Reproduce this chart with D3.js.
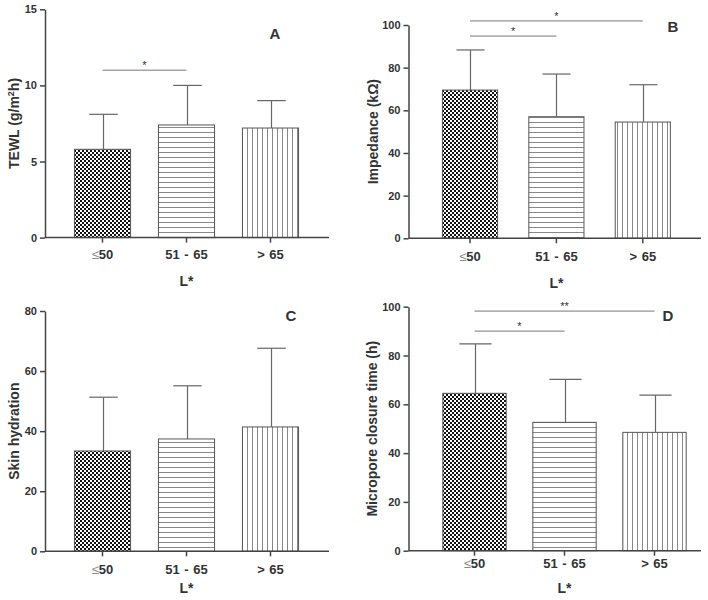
<!DOCTYPE html>
<html><head><meta charset="utf-8">
<script src="https://cdn.jsdelivr.net/npm/d3@7"></script>
<style>body{margin:0;background:#fff}svg{display:block}</style>
</head><body>
<script>
const categories = ["≤50", "51 - 65", "> 65"];
const xTitle = "L*";
const tewlMean = [5.8, 7.4, 7.2];
const tewlSD = [2.3, 2.6, 1.8];
const impedanceMean = [69.5, 57.0, 54.5];
const impedanceSD = [18.8, 20.0, 17.5];
const hydrationMean = [33.4, 37.4, 41.4];
const hydrationSD = [17.9, 17.7, 26.2];
const microporeMean = [64.5, 52.6, 48.5];
const microporeSD = [20.3, 17.6, 15.3];
const tewlTicks = [0, 5, 10, 15];
const impedanceTicks = [0, 20, 40, 60, 80, 100];
const hydrationTicks = [0, 20, 40, 60, 80];
const microporeTicks = [0, 20, 40, 60, 80, 100];
const tewlSig = [{from: 0, to: 1, at: 11.0, label: "*"}];
const impedanceSig = [{from: 0, to: 1, at: 94.8, label: "*"}, {from: 0, to: 2, at: 101.9, label: "*"}];
const hydrationSig = [];
const microporeSig = [{from: 0, to: 1, at: 90.0, label: "*"}, {from: 0, to: 2, at: 98.2, label: "**"}];
const patterns = ["checker", "hlines", "vlines"];

const W = 708, H = 600;
const svg = d3.select("body").append("svg").attr("width", W).attr("height", H);
const defs = svg.append("defs");
const pc = defs.append("pattern").attr("id", "checker").attr("patternUnits", "userSpaceOnUse")
  .attr("width", 4).attr("height", 4);
pc.append("rect").attr("width", 4).attr("height", 4).attr("fill", "#fff");
pc.append("rect").attr("x", 0).attr("y", 0).attr("width", 2).attr("height", 2).attr("fill", "#111");
pc.append("rect").attr("x", 2).attr("y", 2).attr("width", 2).attr("height", 2).attr("fill", "#111");
const ph = defs.append("pattern").attr("id", "hlines").attr("patternUnits", "userSpaceOnUse")
  .attr("width", 5).attr("height", 5);
ph.append("rect").attr("width", 5).attr("height", 5).attr("fill", "#fff");
ph.append("rect").attr("x", 0).attr("y", 2).attr("width", 5).attr("height", 1).attr("fill", "#888");
const pv = defs.append("pattern").attr("id", "vlines").attr("patternUnits", "userSpaceOnUse")
  .attr("width", 5).attr("height", 5);
pv.append("rect").attr("width", 5).attr("height", 5).attr("fill", "#fff");
pv.append("rect").attr("x", 2).attr("y", 0).attr("width", 1).attr("height", 5).attr("fill", "#888");

const panels = [
  {mean: tewlMean, sd: tewlSD, ticks: tewlTicks, sig: tewlSig, letter: "A", yTitle: ["TEWL (g/m", "2", "h)"],
   ax: 45, yTop: 9.3, yBot: 237.6, xEnd: 329, band: [60.5, 312.5], pad: 0.32,
   ylabX: 14, letterX: 275, letterY: 39, tickY: 254, titleY: 281},
  {mean: impedanceMean, sd: impedanceSD, ticks: impedanceTicks, sig: impedanceSig, letter: "B", yTitle: ["Impedance (kΩ)"],
   ax: 408.5, yTop: 25, yBot: 238.3, xEnd: 701, band: [426.8, 686], pad: 0.35,
   ylabX: 373, letterX: 673, letterY: 32, tickY: 256, titleY: 283},
  {mean: hydrationMean, sd: hydrationSD, ticks: hydrationTicks, sig: hydrationSig, letter: "C", yTitle: ["Skin hydration"],
   ax: 45, yTop: 311, yBot: 551.3, xEnd: 329, band: [60.5, 312.5], pad: 0.32,
   ylabX: 14, letterX: 291, letterY: 321, tickY: 569, titleY: 588},
  {mean: microporeMean, sd: microporeSD, ticks: microporeTicks, sig: microporeSig, letter: "D", yTitle: ["Micropore closure time (h)"],
   ax: 408.5, yTop: 306.7, yBot: 550.7, xEnd: 701, band: [429.5, 699.5], pad: 0.285,
   ylabX: 372, letterX: 668, letterY: 321, tickY: 563, titleY: 588}
];

const txt = "#333", axc = "#444", font = "Liberation Sans, Arial, sans-serif";

panels.forEach(p => {
  const g = svg.append("g");
  const y = d3.scaleLinear().domain([p.ticks[0], p.ticks[p.ticks.length - 1]]).range([p.yBot, p.yTop]);
  const x = d3.scaleBand().domain(categories).range(p.band).paddingInner(p.pad).paddingOuter(p.pad / 2);
  const data = categories.map((c, i) => ({c, m: p.mean[i], s: p.sd[i], pat: patterns[i]}));

  g.selectAll("rect.bar").data(data).join("rect").attr("class", "bar")
    .attr("x", d => x(d.c) + 0.5).attr("width", x.bandwidth() - 1)
    .attr("y", d => y(d.m)).attr("height", d => y(0) - y(d.m))
    .attr("fill", d => `url(#${d.pat})`).attr("stroke", "#555").attr("stroke-width", 1);

  const cx = d => Math.round(x(d.c) + x.bandwidth() / 2) + 0.5;
  g.selectAll("line.err").data(data).join("line")
    .attr("x1", cx).attr("x2", cx).attr("y1", d => y(d.m)).attr("y2", d => y(d.m + d.s))
    .attr("stroke", "#666").attr("stroke-width", 1.2);
  g.selectAll("line.cap").data(data).join("line")
    .attr("x1", d => cx(d) - x.bandwidth() / 4).attr("x2", d => cx(d) + x.bandwidth() / 4)
    .attr("y1", d => y(d.m + d.s)).attr("y2", d => y(d.m + d.s))
    .attr("stroke", "#666").attr("stroke-width", 1.2);

  const ya = g.append("g").attr("transform", `translate(${p.ax},0)`)
    .call(d3.axisLeft(y).tickValues(p.ticks).tickSize(5).tickPadding(3).tickSizeOuter(0));
  ya.select(".domain").attr("stroke", axc).attr("stroke-width", 1.5);
  ya.selectAll(".tick line").attr("stroke", axc).attr("stroke-width", 1.5);
  ya.selectAll(".tick text").attr("fill", txt).attr("font-family", font).attr("font-weight", "bold").attr("font-size", 11);

  const xa = g.append("g").attr("transform", `translate(0,${p.yBot})`);
  xa.append("line").attr("x1", p.ax).attr("x2", p.xEnd).attr("y1", 0).attr("y2", 0)
    .attr("stroke", axc).attr("stroke-width", 1.5);
  xa.selectAll("line.t").data(categories).join("line").attr("class", "t")
    .attr("x1", d => x(d) + x.bandwidth() / 2).attr("x2", d => x(d) + x.bandwidth() / 2)
    .attr("y1", 0).attr("y2", 5).attr("stroke", axc).attr("stroke-width", 1.5);
  const tl = g.selectAll("text.xt").data(categories).join("text").attr("class", "xt")
    .attr("x", d => x(d) + x.bandwidth() / 2).attr("y", p.tickY).attr("dy", "0.35em")
    .attr("text-anchor", "middle").attr("fill", txt).attr("font-family", font)
    .attr("font-weight", "bold").attr("font-size", 13);
  tl.each(function(d) {
    const t = d3.select(this);
    if (d.startsWith("≤")) {
      t.append("tspan").attr("font-weight", "normal").attr("fill", "#888").text("≤");
      t.append("tspan").text(d.slice(1));
    } else {
      t.attr("word-spacing", 1).text(d);
    }
  });

  g.append("text").attr("x", (x.range()[0] + x.range()[1]) / 2).attr("y", p.titleY).attr("dy", "0.35em")
    .attr("text-anchor", "middle").attr("fill", txt).attr("font-family", font)
    .attr("font-weight", "bold").attr("font-size", 14).text(xTitle);

  const yt = g.append("text").attr("transform", `translate(${p.ylabX},${(p.yTop + p.yBot) / 2}) rotate(-90)`)
    .attr("dy", "0.35em").attr("text-anchor", "middle").attr("fill", txt).attr("font-family", font)
    .attr("font-weight", "bold").attr("font-size", 14);
  if (p.yTitle.length === 3) {
    yt.append("tspan").text(p.yTitle[0]);
    yt.append("tspan").attr("font-size", 9).attr("dy", "-0.6em").text(p.yTitle[1]);
    yt.append("tspan").attr("dy", "0.4em").text(p.yTitle[2]);
  } else {
    yt.text(p.yTitle[0]);
  }

  g.append("text").attr("x", p.letterX).attr("y", p.letterY).attr("text-anchor", "middle")
    .attr("fill", txt).attr("font-family", font).attr("font-weight", "bold").attr("font-size", 15).text(p.letter);

  p.sig.forEach(s => {
    const x1 = x(categories[s.from]) + x.bandwidth() / 2, x2 = x(categories[s.to]) + x.bandwidth() / 2;
    g.append("line").attr("x1", x1).attr("x2", x2).attr("y1", y(s.at)).attr("y2", y(s.at))
      .attr("stroke", "#777").attr("stroke-width", 1);
    g.append("text").attr("x", (x1 + x2) / 2).attr("y", y(s.at) - 1).attr("text-anchor", "middle")
      .attr("fill", txt).attr("font-family", font).attr("font-size", 11).text(s.label);
  });
});
</script>
</body></html>
